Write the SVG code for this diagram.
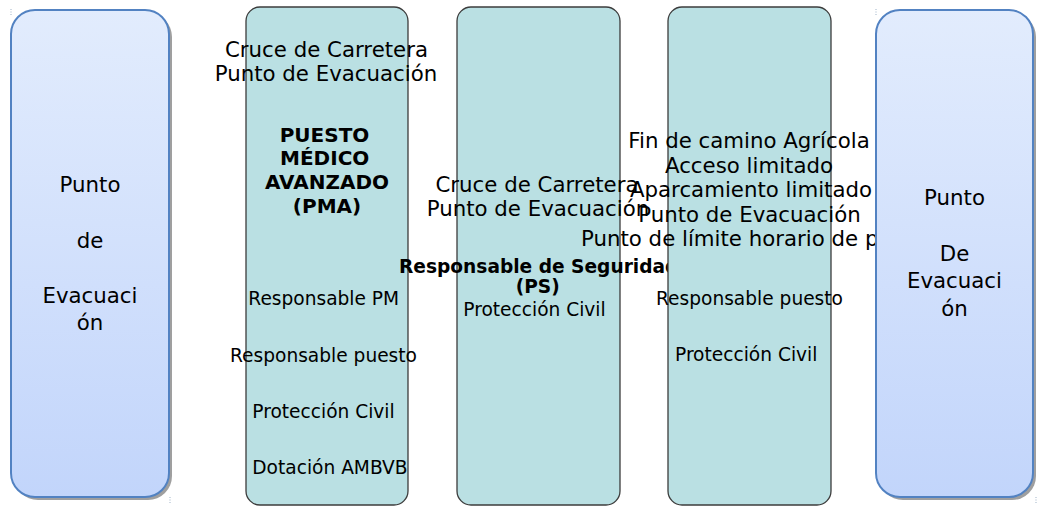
<svg xmlns="http://www.w3.org/2000/svg" width="1040" height="506" viewBox="0 0 1040 506">
<defs>
<linearGradient id="blueGrad" x1="0" y1="0" x2="0" y2="1">
<stop offset="0" stop-color="#e2ecfd"/>
<stop offset="1" stop-color="#c2d5fb"/>
</linearGradient>
<style>
.t{font-family:"DejaVu Sans","Liberation Sans",sans-serif;fill:#000}
.big{font-size:21.3px}
.sm{font-size:18.6px}
.b20{font-size:20px;font-weight:bold}
.b18{font-size:18.6px;font-weight:bold}
.mid{text-anchor:middle}
.blue{fill:url(#blueGrad);stroke:#5282c2;stroke-width:2}
.shadow{fill:#9f9f9f}
.teal{fill:#bae0e3;stroke:#3c3c3c;stroke-width:1.3}
.mark{stroke:#9fb3c8;stroke-width:1;stroke-dasharray:1 1.5}
</style>
</defs>
<rect width="1040" height="506" fill="#ffffff"/>
<g id="connectors"></g>

<g id="punto-evacuacion-izq">
<rect class="shadow" x="14" y="13" width="158" height="487" rx="24"/>
<rect class="blue" x="11" y="10" width="158" height="487" rx="24"/>
<line class="mark" x1="11" y1="9" x2="11" y2="16"/>
<line class="mark" x1="170" y1="497" x2="170" y2="504"/>
<text class="t big mid" x="90" y="192">Punto</text>
<text class="t big mid" x="90" y="248">de</text>
<text class="t big mid" x="90" y="303">Evacuaci</text>
<text class="t big mid" x="90" y="330">ón</text>
</g>

<g id="pma">
<rect class="teal" x="246" y="7" width="162" height="498" rx="14"/>
<text class="t big mid" x="326.5" y="57">Cruce de Carretera</text>
<text class="t big mid" x="326" y="81">Punto de Evacuación</text>
<text class="t b20 mid" x="324.5" y="142">PUESTO</text>
<text class="t b20 mid" x="324.7" y="165">MÉDICO</text>
<text class="t b20 mid" x="327" y="189">AVANZADO</text>
<text class="t b20 mid" x="327" y="213">(PMA)</text>
<text class="t sm" x="248.3" y="305">Responsable PM</text>
<text class="t sm" x="230" y="361.5">Responsable puesto</text>
<text class="t sm" x="252.3" y="418">Protección Civil</text>
<text class="t sm" x="252.3" y="474">Dotación AMBVB</text>
</g>

<g id="ps">
<rect class="teal" x="457" y="7" width="163" height="498" rx="14"/>
<text class="t big mid" x="537" y="192">Cruce de Carretera</text>
<text class="t big" x="426.7" y="216">Punto de Evacuación</text>
<text class="t b18" x="399" y="272.5">Responsable de Seguridad</text>
<text class="t b18 mid" x="537.7" y="293">(PS)</text>
<text class="t sm" x="463.3" y="315.5">Protección Civil</text>
</g>

<g id="fin-camino">
<rect class="teal" x="668" y="7" width="163" height="498" rx="14"/>
<text class="t big mid" x="749" y="148">Fin de camino Agrícola</text>
<text class="t big mid" x="749" y="172.5">Acceso limitado</text>
<text class="t big mid" x="751" y="197">Aparcamiento limitado</text>
<text class="t big mid" x="749.5" y="221.5">Punto de Evacuación</text>
<text class="t big" x="581" y="246">Punto de límite horario de p</text>
<text class="t sm" x="656" y="305">Responsable puesto</text>
<text class="t sm" x="675" y="361">Protección Civil</text>
</g>

<g id="punto-evacuacion-der">
<rect class="shadow" x="879" y="13" width="157" height="487" rx="24"/>
<rect class="blue" x="876" y="10" width="157" height="487" rx="24"/>
<line class="mark" x1="876" y1="9" x2="876" y2="16"/>
<line class="mark" x1="1036" y1="497" x2="1036" y2="504"/>
<text class="t big mid" x="954.5" y="205">Punto</text>
<text class="t big mid" x="954.5" y="261">De</text>
<text class="t big mid" x="954.5" y="288">Evacuaci</text>
<text class="t big mid" x="954.5" y="316">ón</text>
</g>
</svg>
